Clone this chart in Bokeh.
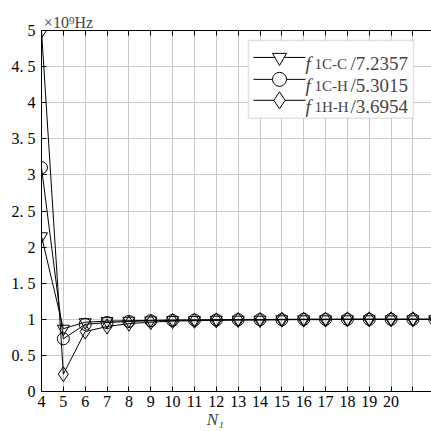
from bokeh.plotting import figure
from bokeh.models import Range1d, LinearAxis, FixedTicker, Label, BoxAnnotation, CustomJSTickFormatter
from bokeh.embed import file_html
from bokeh.resources import INLINE

# ---- data ----
N1 = list(range(4, 23))
f_cc = [2.15, 0.87, 0.96, 0.975, 0.98, 0.985, 0.99, 0.99, 0.995, 0.995, 0.995, 1.0, 1.0, 1.0, 1.0, 1.0, 1.0, 1.0, 1.0]
f_ch = [3.10, 0.73, 0.93, 0.955, 0.97, 0.98, 0.985, 0.99, 0.99, 0.995, 0.995, 0.995, 1.0, 1.0, 1.0, 1.0, 1.0, 1.0, 1.0]
f_hh = [5.00, 0.24, 0.83, 0.90, 0.94, 0.96, 0.975, 0.98, 0.985, 0.99, 0.99, 0.995, 0.995, 0.995, 1.0, 1.0, 1.0, 1.0, 1.0]
sub_labels = ["1C-C", "1C-H", "1H-H"]
ratio_labels = ["/7.2357", "/5.3015", "/3.6954"]
x_ticks = list(range(4, 22))
x_tick_labels = {i: (str(i) if i <= 20 else "") for i in x_ticks}
y_ticks = [0, 0.5, 1, 1.5, 2, 2.5, 3, 3.5, 4, 4.5, 5]
unit_label = "×10⁹Hz"
x_label = "N₁"

FONT = "Liberation Serif"
W, H = 431, 431
L, T, R, B = 41, 30, 0, 39
XMIN, XMAX = 4, 4 + (W - L - R) / 21.85
YMIN, YMAX = 0, 5

p = figure(width=W, height=H, output_backend="svg", toolbar_location=None,
           x_range=Range1d(XMIN, XMAX), y_range=Range1d(YMIN, YMAX),
           min_border_left=L, min_border_right=R, min_border_top=T, min_border_bottom=B,
           x_axis_location="below", y_axis_location="left")
p.outline_line_color = None
p.background_fill_color = "white"
p.border_fill_color = "white"

fw = W - L - R
fh = H - T - B
def sx2d(sx):
    return XMIN + (sx - L) / fw * (XMAX - XMIN)
def sy2d(sy):
    return YMIN + (T + fh - sy) / fh * (YMAX - YMIN)

for ax in (p.xaxis[0], p.yaxis[0]):
    ax.major_tick_in = 5
    ax.major_tick_out = 0
    ax.minor_tick_line_color = None
    ax.axis_line_color = "black"
    ax.major_tick_line_color = "black"
    ax.major_label_text_font = FONT
    ax.major_label_text_color = "black"
    ax.major_label_text_font_size = "16px"
p.xaxis[0].ticker = FixedTicker(ticks=x_ticks)
p.xaxis[0].major_label_overrides = x_tick_labels
p.xaxis[0].major_label_standoff = 4
p.xaxis[0].axis_label = x_label + "\u00a0" * 10
p.xaxis[0].axis_label_text_font = FONT
p.xaxis[0].axis_label_text_font_style = "italic"
p.xaxis[0].axis_label_text_font_size = "17px"
p.xaxis[0].axis_label_standoff = 0
p.yaxis[0].ticker = FixedTicker(ticks=y_ticks)
p.yaxis[0].formatter = CustomJSTickFormatter(
    code="return (Math.abs(tick % 1) < 1e-9) ? tick.toFixed(0) : tick.toFixed(1).replace('.', '. ');")
p.yaxis[0].major_label_standoff = 6

top = LinearAxis(ticker=FixedTicker(ticks=x_ticks), major_tick_in=5, major_tick_out=0,
                 minor_tick_line_color=None, major_label_text_font_size="1px",
                 major_label_overrides={i: "" for i in x_ticks}, major_label_standoff=0,
                 axis_line_color="black", major_tick_line_color="black",
                 axis_label=unit_label, axis_label_text_font=FONT,
                 axis_label_text_font_style="normal", axis_label_text_font_size="16px",
                 axis_label_standoff=0)
try:
    top.axis_label_align = "left"
except Exception:
    top.axis_label = unit_label + "\u00a0" * 84
p.add_layout(top, "above")

p.xgrid.ticker = FixedTicker(ticks=x_ticks)
p.ygrid.ticker = FixedTicker(ticks=y_ticks)
for g in (p.xgrid, p.ygrid):
    g.grid_line_color = "#c8c8c8"
    g.grid_line_width = 1

series = [(f_cc, "inverted_triangle", 12), (f_ch, "circle", 12), (f_hh, "diamond", 15)]
for vals, mk, sz in series:
    p.line(N1, vals, line_color="black", line_width=1)
    p.scatter(N1, vals, marker=mk, size=sz, line_color="black", fill_color=None, line_width=1)

# ---- legend (manual, for italic/subscript text) ----
box = BoxAnnotation(left=sx2d(248), right=sx2d(413), top=sy2d(40), bottom=sy2d(118),
                    fill_color="white", fill_alpha=1.0, line_color="#a0a0a0", line_width=1.5)
p.add_layout(box)
rows_sy = [57, 79, 100]
for (vals, mk, sz), sy, sub, rat in zip(series, rows_sy, sub_labels, ratio_labels):
    yy = sy2d(sy)
    p.line([sx2d(253), sx2d(305)], [yy, yy], line_color="black", line_width=1, level="overlay")
    p.scatter([sx2d(279)], [yy], marker=mk, size=sz + 2, line_color="black", fill_color="white",
              line_width=1, level="overlay")
    p.add_layout(Label(x=sx2d(305), y=sy2d(sy + 6), text="f", text_font=FONT, text_font_style="italic",
                       text_font_size="19px", text_baseline="alphabetic", level="overlay"))
    p.add_layout(Label(x=sx2d(314), y=sy2d(sy + 7), text=sub, text_font=FONT,
                       text_font_size="15px", text_baseline="alphabetic", level="overlay"))
    p.add_layout(Label(x=sx2d(350), y=sy2d(sy + 6), text=rat, text_font=FONT,
                       text_font_size="19px", text_baseline="alphabetic", level="overlay"))

open("out.html", "w").write(file_html(p, INLINE))
